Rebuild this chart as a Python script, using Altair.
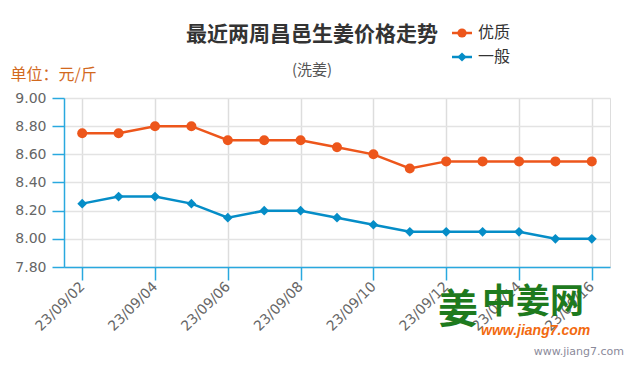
import altair as alt
import pandas as pd

dates = ["23/09/02", "23/09/03", "23/09/04", "23/09/05", "23/09/06", "23/09/07", "23/09/08",
         "23/09/09", "23/09/10", "23/09/11", "23/09/12", "23/09/13", "23/09/14", "23/09/15", "23/09/16"]
youzhi = [8.75, 8.75, 8.80, 8.80, 8.70, 8.70, 8.70, 8.65, 8.60, 8.50, 8.55, 8.55, 8.55, 8.55, 8.55]
yiban = [8.25, 8.30, 8.30, 8.25, 8.15, 8.20, 8.20, 8.15, 8.10, 8.05, 8.05, 8.05, 8.05, 8.00, 8.00]
series_names = ["优质", "一般"]
series_colors = ["#ED561B", "#058DC7"]
label_dates = dates[::2]
y_ticks = [7.8, 8.0, 8.2, 8.4, 8.6, 8.8, 9.0]

FONT = "DejaVu Sans"
CJK = "Noto Sans CJK SC"
AXIS_BLUE = "#29A8DF"

rows = []
for d, a, b in zip(dates, youzhi, yiban):
    rows.append({"date": d, "series": "优质", "price": a})
    rows.append({"date": d, "series": "一般", "price": b})
df = pd.DataFrame(rows)

W, H = 546, 169

x = alt.X("date:O", sort=dates,
          scale=alt.Scale(type="point", padding=0.5),
          axis=alt.Axis(values=label_dates, labelAngle=-45, labelAlign="right", labelBaseline="middle",
                        labelFont=FONT, labelFontSize=14, labelColor="#666666", labelPadding=4,
                        tickColor=AXIS_BLUE, tickSize=13, tickWidth=1.5,
                        domainColor=AXIS_BLUE, domainWidth=1.5,
                        grid=True, gridColor="#dddddd", gridWidth=1.5, title=None))
y = alt.Y("price:Q",
          scale=alt.Scale(domain=[7.8, 9.0], nice=False, zero=False),
          axis=alt.Axis(values=y_ticks, format=".2f", labelFont=FONT, labelFontSize=14,
                        labelColor="#666666", labelPadding=6,
                        tickColor=AXIS_BLUE, tickSize=12, tickWidth=1.5,
                        domainColor=AXIS_BLUE, domainWidth=1.5,
                        grid=True, gridColor="#e3e3e3", gridWidth=1.5,
                        title="单位：元/斤", titleAngle=0, titleAlign="left", titleBaseline="alphabetic",
                        titleX=-54, titleY=-19, titleFont=CJK, titleFontSize=16,
                        titleFontWeight="normal", titleColor="#D2691E"))
color = alt.Color("series:N", scale=alt.Scale(domain=series_names, range=series_colors), legend=None)

base = alt.Chart(df)
lines = base.mark_line(strokeWidth=2.5).encode(x=x, y=y, color=color, detail="series:N")
pts_a = base.transform_filter(alt.datum.series == "优质").mark_point(
    shape="circle", filled=True, size=100, opacity=1).encode(x=x, y=y, color=color)
pts_b = base.transform_filter(alt.datum.series == "一般").mark_point(
    shape="diamond", filled=True, size=95, opacity=1).encode(x=x, y=y, color=color)

# legend
leg = pd.DataFrame({"series": series_names})
lbase = alt.Chart(leg)
legend_layers = []
for i, (nm, col, shp) in enumerate(zip(series_names, series_colors, ["circle", "diamond"])):
    yy = 33 - 98 + i * 24
    f = lbase.transform_filter(alt.datum.series == nm)
    legend_layers.append(f.mark_rule(color=col, strokeWidth=2.5).encode(
        x=alt.value(452 - 64), x2=alt.value(472 - 64), y=alt.value(yy)))
    legend_layers.append(f.mark_point(shape=shp, filled=True, size=85, opacity=1, color=col).encode(
        x=alt.value(462 - 64), y=alt.value(yy)))
    legend_layers.append(f.mark_text(align="left", baseline="middle", font=CJK, fontSize=16,
                                     color="#333333").encode(
        x=alt.value(478 - 64), y=alt.value(yy), text="series:N"))

# watermark
wm = pd.DataFrame({"t": ["中姜网", "姜"]})
wbase = alt.Chart(wm)
wm_layers = [
    wbase.transform_filter(alt.datum.t == "姜").mark_text(align="center", baseline="middle", font=CJK,
                                                         fontSize=40, fontWeight="bold", color="#1E7A1E").encode(
        x=alt.value(458 - 64), y=alt.value(311 - 98), text="t:N"),
    wbase.transform_filter(alt.datum.t == "中姜网").mark_text(align="left", baseline="middle", font=CJK,
                                                           fontSize=34, fontWeight="bold", color="#1E7A1E").encode(
        x=alt.value(482 - 64), y=alt.value(303 - 98), text="t:N"),
]
wm_layers.append(alt.Chart(pd.DataFrame({"t": ["www.jiang7.com"]})).mark_text(
    align="left", baseline="middle", font="Liberation Sans", fontSize=14, fontWeight="bold",
    fontStyle="italic", color="#F26A10").encode(x=alt.value(481 - 64), y=alt.value(331 - 98), text="t:N"))
wm_layers.append(alt.Chart(pd.DataFrame({"t": ["www.jiang7.com"]})).mark_text(
    align="right", baseline="middle", font="DejaVu Sans", fontSize=11, color="#8a8a9a").encode(
    x=alt.value(624 - 64), y=alt.value(352 - 98), text="t:N"))

chart = alt.layer(lines, pts_a, pts_b, *legend_layers, *wm_layers).properties(
    width=W, height=H,
    autosize=alt.AutoSizeParams(type="none"),
    padding={"left": 64, "top": 98, "right": 25, "bottom": 108},
    title=alt.TitleParams(text="最近两周昌邑生姜价格走势", subtitle="(洗姜)", anchor="middle",
                          dx=-25, dy=73, offset=20, font=CJK, fontSize=21, fontWeight="bold", color="#333333",
                          subtitleFont=CJK, subtitleFontSize=15, subtitleColor="#555555",
                          subtitlePadding=18),
).configure_view(stroke=None).configure(background="white")

chart.save("out.html", embed_options={"renderer": "svg", "actions": False})
